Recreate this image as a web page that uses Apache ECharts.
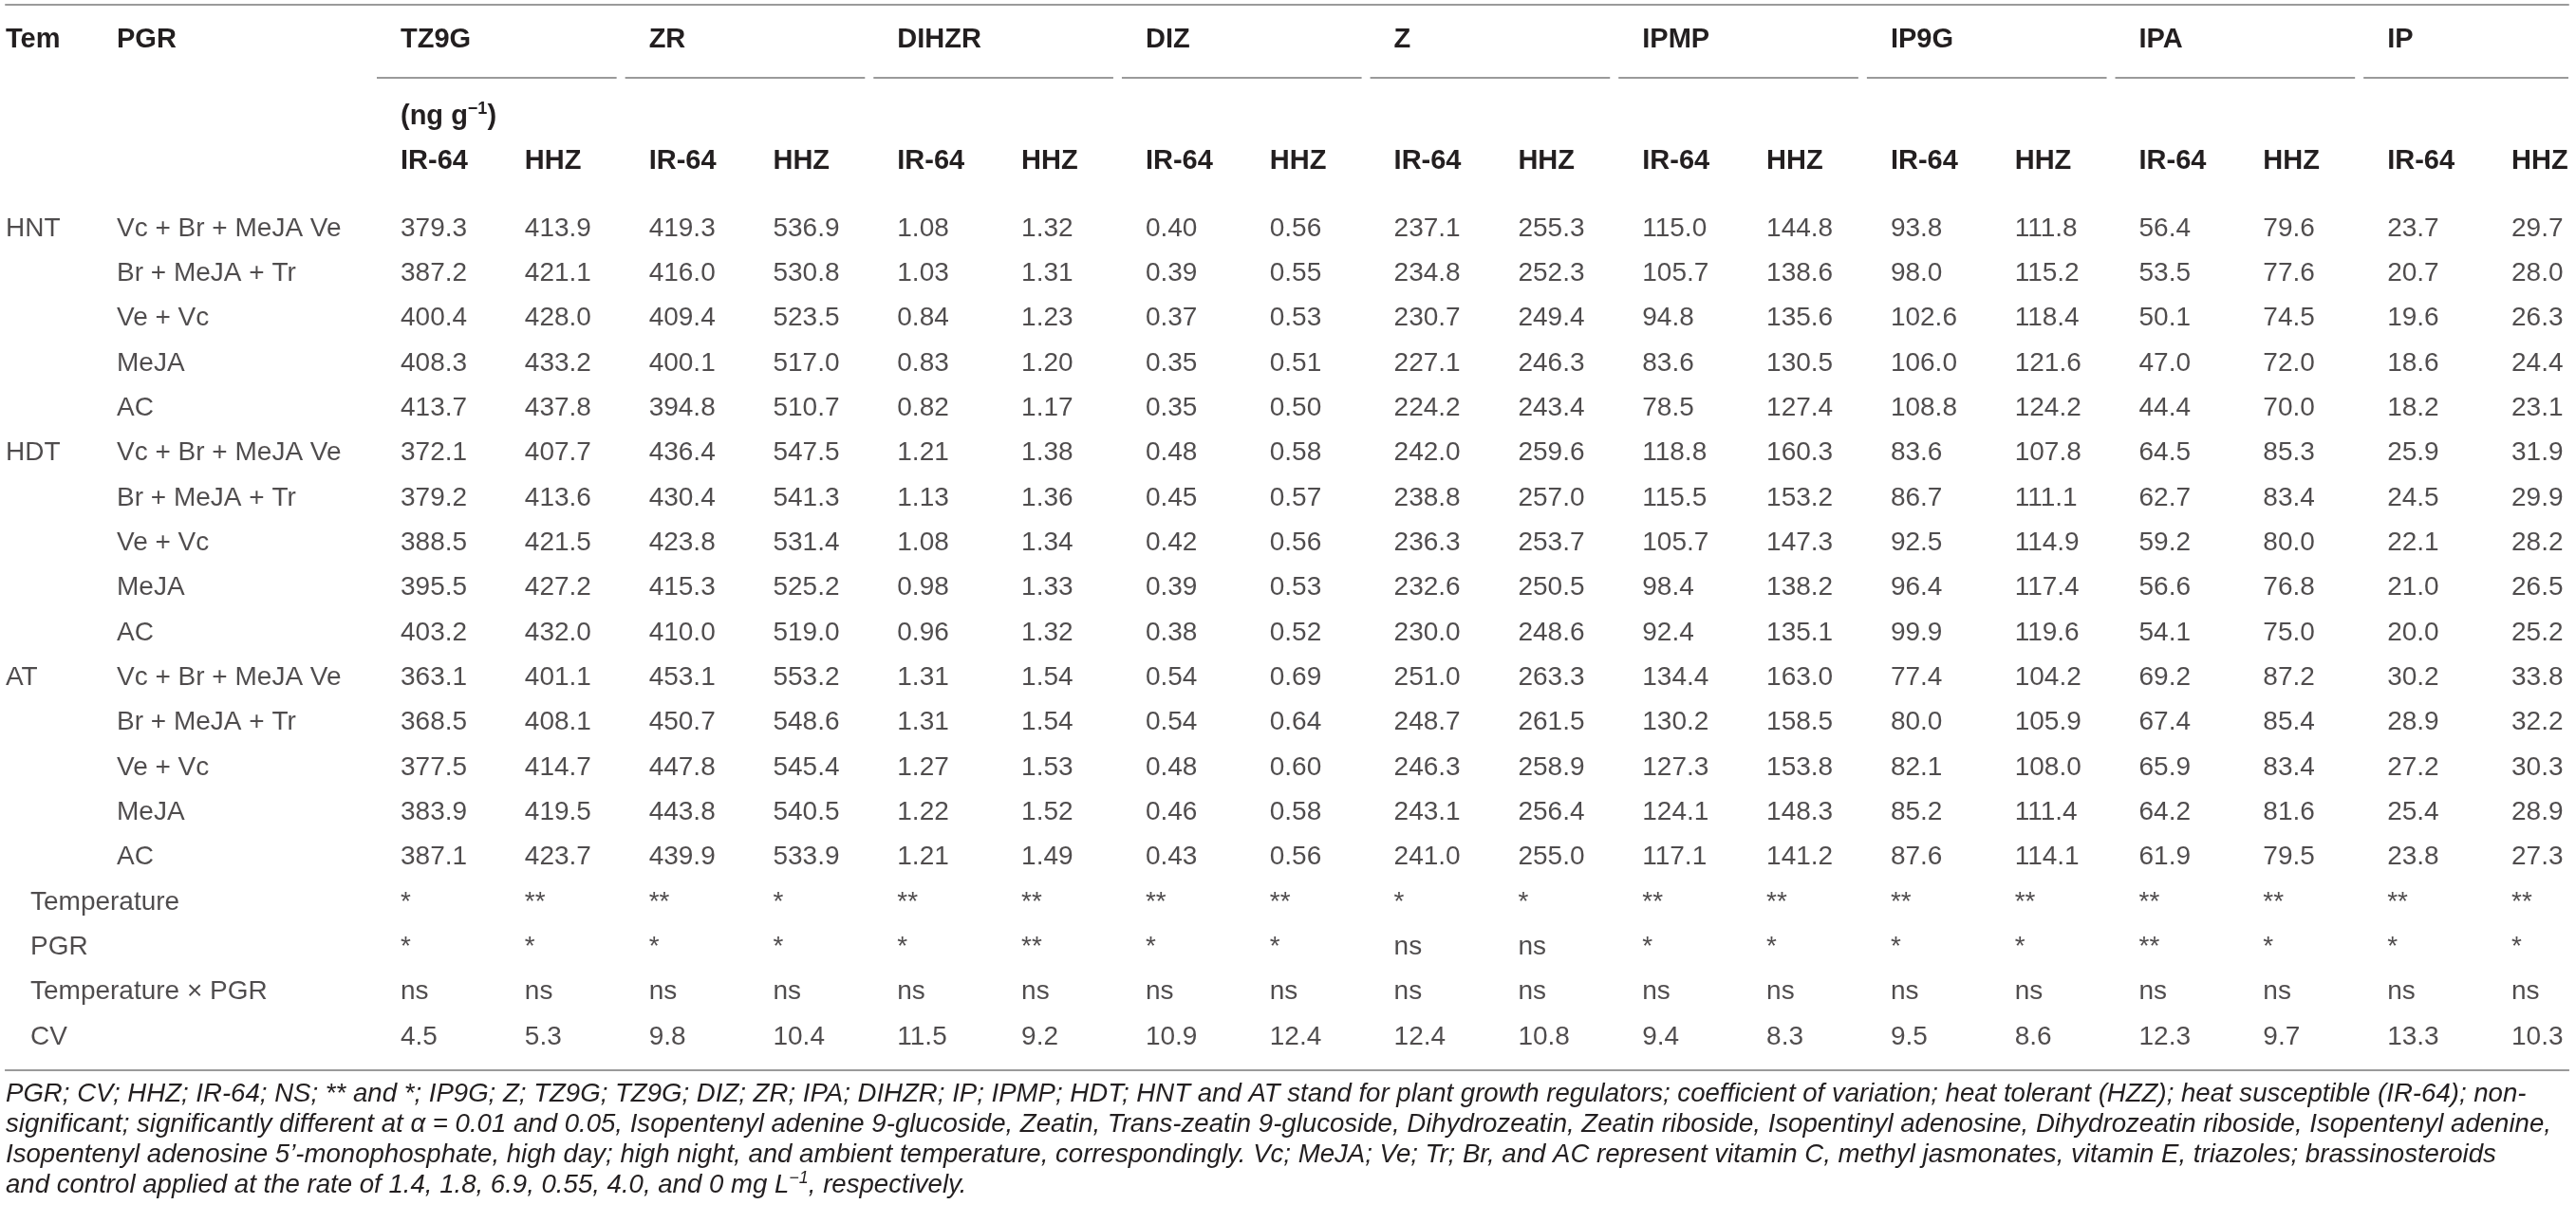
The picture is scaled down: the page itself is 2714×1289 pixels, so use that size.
<!DOCTYPE html>
<html>
<head>
<meta charset="utf-8">
<script src="https://cdn.jsdelivr.net/npm/echarts@6/dist/echarts.min.js"></script>
<style>
  html, body { margin: 0; padding: 0; background: #fff; }
  #main { width: 2714px; height: 1289px; }
</style>
</head>
<body>
<div id="main"></div>
<script>
// column groups and sub columns
const hormones = ['TZ9G', 'ZR', 'DIHZR', 'DIZ', 'Z', 'IPMP', 'IP9G', 'IPA', 'IP'];
const cultivars = ['IR-64', 'HHZ'];
const decimals = [1, 1, 2, 2, 1, 1, 1, 1, 1];

const temps = ['HNT', 'HDT', 'AT'];
const pgrs = ['Vc + Br + MeJA Ve', 'Br + MeJA + Tr', 'Ve + Vc', 'MeJA', 'AC'];
const statNames = ['Temperature', 'PGR', 'Temperature \u00d7 PGR', 'CV'];

const hnt = [
  [379.3, 413.9, 419.3, 536.9, 1.08, 1.32, 0.40, 0.56, 237.1, 255.3, 115.0, 144.8, 93.8, 111.8, 56.4, 79.6, 23.7, 29.7],
  [387.2, 421.1, 416.0, 530.8, 1.03, 1.31, 0.39, 0.55, 234.8, 252.3, 105.7, 138.6, 98.0, 115.2, 53.5, 77.6, 20.7, 28.0],
  [400.4, 428.0, 409.4, 523.5, 0.84, 1.23, 0.37, 0.53, 230.7, 249.4, 94.8, 135.6, 102.6, 118.4, 50.1, 74.5, 19.6, 26.3],
  [408.3, 433.2, 400.1, 517.0, 0.83, 1.20, 0.35, 0.51, 227.1, 246.3, 83.6, 130.5, 106.0, 121.6, 47.0, 72.0, 18.6, 24.4],
  [413.7, 437.8, 394.8, 510.7, 0.82, 1.17, 0.35, 0.50, 224.2, 243.4, 78.5, 127.4, 108.8, 124.2, 44.4, 70.0, 18.2, 23.1]
];
const hdt = [
  [372.1, 407.7, 436.4, 547.5, 1.21, 1.38, 0.48, 0.58, 242.0, 259.6, 118.8, 160.3, 83.6, 107.8, 64.5, 85.3, 25.9, 31.9],
  [379.2, 413.6, 430.4, 541.3, 1.13, 1.36, 0.45, 0.57, 238.8, 257.0, 115.5, 153.2, 86.7, 111.1, 62.7, 83.4, 24.5, 29.9],
  [388.5, 421.5, 423.8, 531.4, 1.08, 1.34, 0.42, 0.56, 236.3, 253.7, 105.7, 147.3, 92.5, 114.9, 59.2, 80.0, 22.1, 28.2],
  [395.5, 427.2, 415.3, 525.2, 0.98, 1.33, 0.39, 0.53, 232.6, 250.5, 98.4, 138.2, 96.4, 117.4, 56.6, 76.8, 21.0, 26.5],
  [403.2, 432.0, 410.0, 519.0, 0.96, 1.32, 0.38, 0.52, 230.0, 248.6, 92.4, 135.1, 99.9, 119.6, 54.1, 75.0, 20.0, 25.2]
];
const at = [
  [363.1, 401.1, 453.1, 553.2, 1.31, 1.54, 0.54, 0.69, 251.0, 263.3, 134.4, 163.0, 77.4, 104.2, 69.2, 87.2, 30.2, 33.8],
  [368.5, 408.1, 450.7, 548.6, 1.31, 1.54, 0.54, 0.64, 248.7, 261.5, 130.2, 158.5, 80.0, 105.9, 67.4, 85.4, 28.9, 32.2],
  [377.5, 414.7, 447.8, 545.4, 1.27, 1.53, 0.48, 0.60, 246.3, 258.9, 127.3, 153.8, 82.1, 108.0, 65.9, 83.4, 27.2, 30.3],
  [383.9, 419.5, 443.8, 540.5, 1.22, 1.52, 0.46, 0.58, 243.1, 256.4, 124.1, 148.3, 85.2, 111.4, 64.2, 81.6, 25.4, 28.9],
  [387.1, 423.7, 439.9, 533.9, 1.21, 1.49, 0.43, 0.56, 241.0, 255.0, 117.1, 141.2, 87.6, 114.1, 61.9, 79.5, 23.8, 27.3]
];
const sigTemp = ['*', '**', '**', '*', '**', '**', '**', '**', '*', '*', '**', '**', '**', '**', '**', '**', '**', '**'];
const sigPgr = ['*', '*', '*', '*', '*', '**', '*', '*', 'ns', 'ns', '*', '*', '*', '*', '**', '*', '*', '*'];
const sigInter = ['ns', 'ns', 'ns', 'ns', 'ns', 'ns', 'ns', 'ns', 'ns', 'ns', 'ns', 'ns', 'ns', 'ns', 'ns', 'ns', 'ns', 'ns'];
const cv = [4.5, 5.3, 9.8, 10.4, 11.5, 9.2, 10.9, 12.4, 12.4, 10.8, 9.4, 8.3, 9.5, 8.6, 12.3, 9.7, 13.3, 10.3];

const footnote = [
  'PGR; CV; HHZ; IR-64; NS; ** and *; IP9G; Z; TZ9G; TZ9G; DIZ; ZR; IPA; DIHZR; IP; IPMP; HDT; HNT and AT stand for plant growth regulators; coefficient of variation; heat tolerant (HZZ); heat susceptible (IR-64); non-',
  'significant; significantly different at \u03b1 = 0.01 and 0.05, Isopentenyl adenine 9-glucoside, Zeatin, Trans-zeatin 9-glucoside, Dihydrozeatin, Zeatin riboside, Isopentinyl adenosine, Dihydrozeatin riboside, Isopentenyl adenine,',
  'Isopentenyl adenosine 5\u2019-monophosphate, high day; high night, and ambient temperature, correspondingly. Vc; MeJA; Ve; Tr; Br, and AC represent vitamin C, methyl jasmonates, vitamin E, triazoles; brassinosteroids',
  'and control applied at the rate of 1.4, 1.8, 6.9, 0.55, 4.0, and 0 mg L{s|\u22121}, respectively.'
];

// build table cells
const colKeys = hormones.flatMap(h => cultivars.map(c => h + ' ' + c));
const rowKeys = temps.flatMap(t => pgrs.map(p => t + ' ' + p)).concat(statNames.map(s => 'stat ' + s));

const cells = [];
[hnt, hdt, at].forEach((block, b) => {
  block.forEach((row, r) => {
    row.forEach((v, c) => cells.push([c, b * 5 + r, v.toFixed(decimals[Math.floor(c / 2)])]));
  });
});
[sigTemp, sigPgr, sigInter].forEach((row, k) => {
  row.forEach((s, c) => cells.push([c, 15 + k, s]));
});
cv.forEach((v, c) => cells.push([c, 18, v.toFixed(1)]));

const rowLabels = [];
temps.forEach((t, b) => {
  rowLabels.push([0, b * 5, t]);
  pgrs.forEach((p, r) => rowLabels.push([1, b * 5 + r, p]));
});
const statLabels = statNames.map((s, k) => [0, 15 + k, s]);

const FONT = 'Liberation Sans';
const INK = '#231f20';
const RULE = '#9a9a9a';

const textLabel = (extra) => Object.assign({
  show: true,
  position: 'right',
  distance: 0,
  align: 'left',
  verticalAlign: 'middle',
  fontFamily: FONT,
  fontSize: 28,
  color: INK,
  formatter: p => p.value[2]
}, extra || {});

const headerLabel = (margin, formatter, extra) => Object.assign({
  show: true,
  interval: 0,
  margin: margin,
  align: 'left',
  verticalAlign: 'middle',
  fontFamily: FONT,
  fontSize: 29,
  fontWeight: 'bold',
  color: INK,
  formatter: formatter
}, extra || {});

const hidden = { axisLine: { show: false }, axisTick: { show: false }, splitLine: { show: false } };
const ruleAxis = (position, offset) => ({
  gridIndex: 2, type: 'category', data: [''], position: position, offset: offset,
  axisLine: { show: true, lineStyle: { color: RULE, width: 2 } },
  axisTick: { show: false }, axisLabel: { show: false }, splitLine: { show: false }
});

const chart = echarts.init(document.getElementById('main'));

const option = {
  animation: false,
  backgroundColor: '#fff',
  title: {
    left: 6,
    top: 1137,
    padding: 0,
    text: footnote.join('\n'),
    textStyle: {
      fontFamily: FONT,
      fontStyle: 'italic',
      fontWeight: 'normal',
      fontSize: 27.6,
      lineHeight: 32,
      color: INK,
      rich: {
        s: { fontFamily: FONT, fontStyle: 'italic', fontSize: 18, lineHeight: 18, verticalAlign: 'top', color: INK }
      }
    }
  },
  grid: [
    { left: 6, width: 117, top: 241, bottom: 196 },
    { left: 422, right: 68, top: 241, bottom: 196 },
    { left: 6, right: 8, top: 206, bottom: 161 }
  ],
  xAxis: [
    Object.assign({ gridIndex: 0, type: 'category', data: ['Tem', 'PGR'], boundaryGap: false, position: 'top',
      axisLabel: headerLabel(199, v => v) }, hidden),
    Object.assign({ gridIndex: 1, type: 'category', data: colKeys, boundaryGap: false, position: 'top',
      axisLabel: headerLabel(71, (v, i) => cultivars[i % 2]) }, hidden),
    Object.assign({ gridIndex: 1, type: 'category', data: colKeys, boundaryGap: false, position: 'top',
      axisLabel: headerLabel(199, (v, i) => (i % 2 === 0 ? hormones[i / 2] : '')) }, hidden),
    Object.assign({ gridIndex: 1, type: 'category', data: colKeys, boundaryGap: false, position: 'top',
      axisLabel: headerLabel(118, (v, i) => (i === 0 ? '{b|(ng g}{s|\u22121}{b|)}' : ''), {
        rich: {
          b: { fontFamily: FONT, fontSize: 29, fontWeight: 'bold', color: INK, lineHeight: 34 },
          s: { fontFamily: FONT, fontSize: 18, fontWeight: 'bold', color: INK, lineHeight: 18, verticalAlign: 'top' }
        }
      }) }, hidden),
    ruleAxis('top', 0),
    ruleAxis('top', 201),
    ruleAxis('bottom', 0)
  ],
  yAxis: [
    { gridIndex: 0, type: 'category', data: rowKeys, inverse: true, boundaryGap: false, show: false },
    { gridIndex: 1, type: 'category', data: rowKeys, inverse: true, boundaryGap: false, show: false },
    { gridIndex: 2, type: 'value', show: false }
  ],
  series: [
    {
      name: 'rowLabels', type: 'scatter', xAxisIndex: 0, yAxisIndex: 0,
      symbolSize: 0, silent: true, data: rowLabels, label: textLabel()
    },
    {
      name: 'statLabels', type: 'scatter', xAxisIndex: 0, yAxisIndex: 0,
      symbolSize: 0, silent: true, data: statLabels, label: textLabel({ padding: [0, 0, 0, 26] })
    },
    {
      name: 'cells', type: 'scatter', xAxisIndex: 1, yAxisIndex: 1,
      symbolSize: 0, silent: true, data: cells, label: textLabel()
    },
    {
      // rules under each hormone group header
      name: 'groupRules', type: 'custom', xAxisIndex: 1, yAxisIndex: 1, silent: true,
      data: hormones.map((h, g) => [2 * g, 0]),
      renderItem: (params, api) => {
        const p0 = api.coord([api.value(0), 0]);
        const p1 = api.coord([api.value(0) + 1, 0]);
        const step = p1[0] - p0[0];
        const x0 = p0[0] - 25;
        const x1 = Math.min(x0 + 2 * step - 9, api.getWidth() - 8);
        const y = p0[1] - 159;
        return {
          type: 'line',
          shape: { x1: x0, y1: y, x2: x1, y2: y },
          style: { stroke: RULE, lineWidth: 2 }
        };
      }
    }
  ]
};

chart.setOption(option);
</script>
</body>
</html>
